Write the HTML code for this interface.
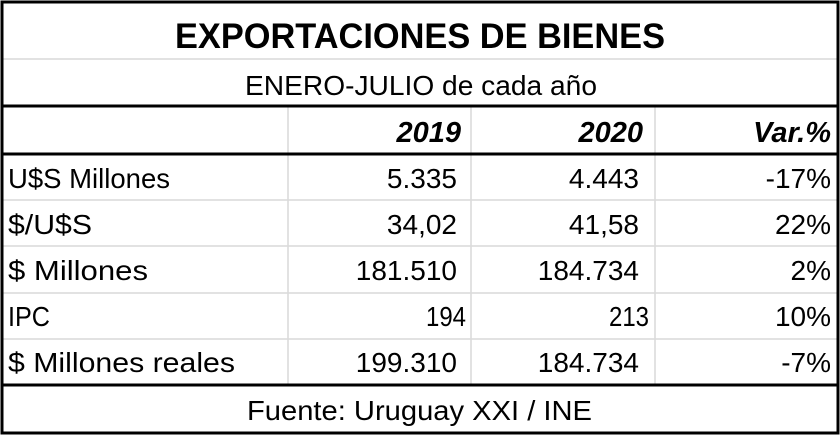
<!DOCTYPE html>
<html><head><meta charset="utf-8"><style>
html,body{margin:0;padding:0;background:#fff;}
svg{display:block;font-family:"Liberation Sans",sans-serif;}
</style></head><body>
<svg width="840" height="436" viewBox="0 0 840 436">
<rect x="0" y="0" width="840" height="436" fill="#fff"/>
<g stroke="#d9d9d9" stroke-width="1.5">
<line x1="2" y1="59" x2="838" y2="59"/>
<line x1="2" y1="200" x2="838" y2="200"/>
<line x1="2" y1="246" x2="838" y2="246"/>
<line x1="2" y1="293" x2="838" y2="293"/>
<line x1="2" y1="339" x2="838" y2="339"/>
<line x1="288" y1="106" x2="288" y2="385"/>
<line x1="471" y1="106" x2="471" y2="385"/>
<line x1="655" y1="106" x2="655" y2="385"/>
</g>
<g stroke="#000" stroke-width="3" fill="none">
<rect x="2" y="2" width="836" height="431"/>
<line x1="2" y1="106" x2="838" y2="106"/>
<line x1="2" y1="154" x2="838" y2="154"/>
<line x1="2" y1="385" x2="838" y2="385"/>
</g>
<text x="175" y="48" font-size="35" font-weight="bold" textLength="490" lengthAdjust="spacingAndGlyphs">EXPORTACIONES DE BIENES</text>
<text x="245" y="95" font-size="28" textLength="352" lengthAdjust="spacingAndGlyphs">ENERO-JULIO de cada año</text>
<g font-size="29" font-weight="bold" font-style="italic" text-anchor="end">
<text x="461" y="142">2019</text>
<text x="643" y="142">2020</text>
<text x="831" y="142">Var.%</text>
</g>
<g font-size="28">
<text x="8" y="188" textLength="162" lengthAdjust="spacingAndGlyphs">U$S Millones</text>
<text x="8" y="234" textLength="84" lengthAdjust="spacingAndGlyphs">$/U$S</text>
<text x="8" y="280" textLength="140" lengthAdjust="spacingAndGlyphs">$ Millones</text>
<text x="8" y="326" textLength="42" lengthAdjust="spacingAndGlyphs">IPC</text>
<text x="8" y="372" textLength="227" lengthAdjust="spacingAndGlyphs">$ Millones reales</text>
</g>
<g font-size="28" text-anchor="end">
<text x="457" y="188">5.335</text>
<text x="639" y="188">4.443</text>
<text x="831" y="188">-17%</text>
<text x="457" y="234">34,02</text>
<text x="639" y="234">41,58</text>
<text x="831" y="234">22%</text>
<text x="457" y="280">181.510</text>
<text x="639" y="280">184.734</text>
<text x="831" y="280">2%</text>
<text x="466" y="326" textLength="40" lengthAdjust="spacingAndGlyphs">194</text>
<text x="649" y="326" textLength="40" lengthAdjust="spacingAndGlyphs">213</text>
<text x="831" y="326">10%</text>
<text x="457" y="372">199.310</text>
<text x="639" y="372">184.734</text>
<text x="831" y="372">-7%</text>
</g>
<text x="247" y="420" font-size="28" textLength="345" lengthAdjust="spacingAndGlyphs">Fuente: Uruguay XXI / INE</text>
</svg>
</body></html>
